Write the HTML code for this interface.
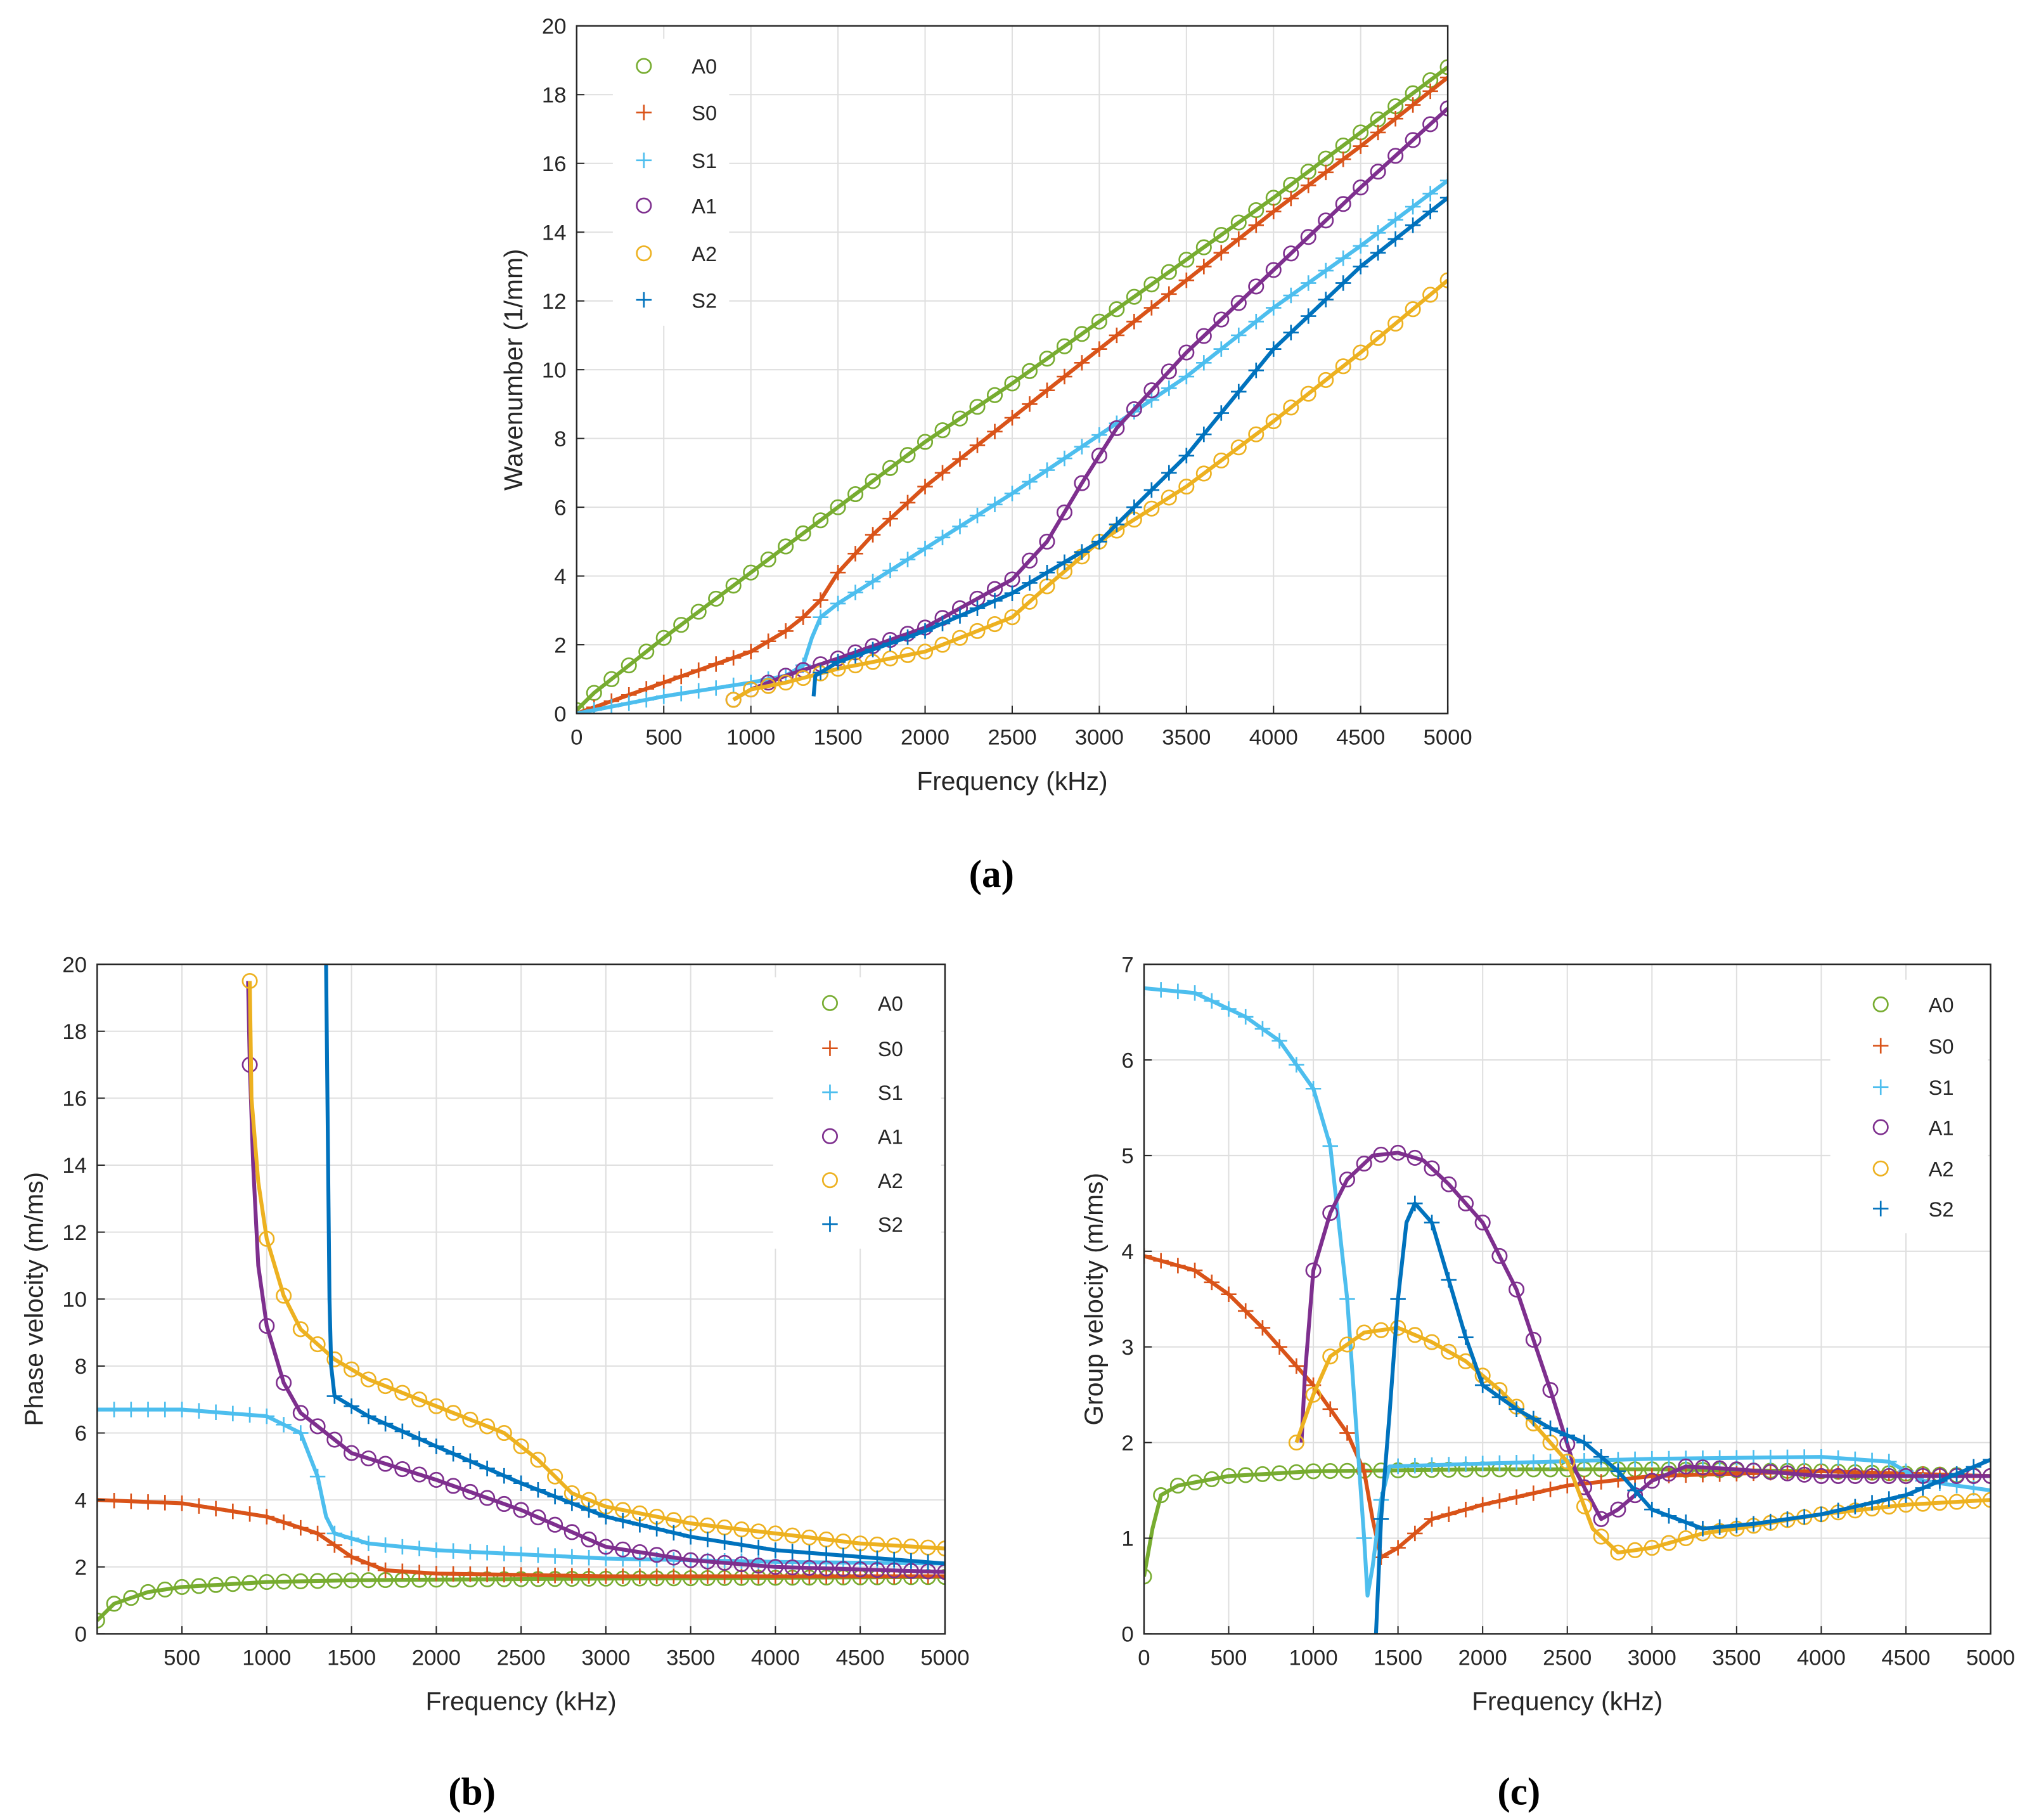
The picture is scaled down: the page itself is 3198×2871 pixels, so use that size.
<!DOCTYPE html>
<html><head><meta charset="utf-8">
<style>
html,body{margin:0;padding:0;background:#fff;}
svg{display:block;font-family:"Liberation Sans",sans-serif;}
</style></head>
<body>
<svg id="fig" width="3198" height="2871" viewBox="0 0 1568 1408" xmlns="http://www.w3.org/2000/svg">
<rect width="1568" height="1408" fill="#fff"/>
<defs>
<clipPath id="clipA"><rect x="446" y="20" width="674" height="532"/></clipPath>
<clipPath id="clipB"><rect x="75" y="746" width="656" height="518"/></clipPath>
<clipPath id="clipC"><rect x="885" y="746" width="655" height="518"/></clipPath>
</defs>
<g id="panels"></g>
<text x="767" y="686" font-family="Liberation Serif,serif" font-size="30" font-weight="bold" text-anchor="middle">(a)</text>
<text x="365" y="1396" font-family="Liberation Serif,serif" font-size="30" font-weight="bold" text-anchor="middle">(b)</text>
<text x="1175" y="1396" font-family="Liberation Serif,serif" font-size="30" font-weight="bold" text-anchor="middle">(c)</text>
</svg>
<script>
// ---- data: panel (a) wavenumber (1/mm) vs frequency (kHz)
const waveA0=[[0,0.1],[100,0.6],[500,2.2],[1000,4.1],[1500,6.0],[2000,7.9],[2500,9.6],[3000,11.4],[3500,13.2],[4000,15.0],[4500,16.9],[5000,18.8]];
const waveS0=[[0,0],[500,0.9],[1000,1.8],[1200,2.4],[1300,2.8],[1400,3.3],[1500,4.1],[1700,5.2],[2000,6.6],[2500,8.6],[3000,10.6],[3500,12.6],[4000,14.6],[4500,16.5],[5000,18.5]];
const waveS1=[[0,0],[500,0.5],[1000,0.9],[1200,1.1],[1300,1.4],[1350,2.2],[1400,2.8],[1500,3.2],[2000,4.8],[2500,6.4],[3000,8.1],[3500,9.8],[4000,11.8],[4500,13.6],[5000,15.5]];
const waveA1=[[900,0.4],[1000,0.7],[1200,1.1],[1500,1.6],[2000,2.5],[2500,3.9],[2700,5.0],[2900,6.7],[3100,8.3],[3300,9.4],[3500,10.5],[4000,12.9],[4500,15.3],[5000,17.6]];
const waveA2=[[900,0.4],[1000,0.7],[1200,0.9],[1500,1.3],[2000,1.8],[2500,2.8],[2700,3.7],[3000,5.0],[3500,6.6],[4000,8.5],[4500,10.5],[5000,12.6]];
const waveS2=[[1360,0.5],[1370,1.1],[1500,1.5],[2000,2.4],[2500,3.5],[3000,5.0],[3500,7.5],[4000,10.6],[4500,13.0],[5000,15.0]];
// ---- data: panel (b) phase velocity (m/ms)
const phaseA0=[[0,0.4],[100,0.9],[300,1.25],[500,1.4],[1000,1.55],[1500,1.6],[2000,1.62],[3000,1.65],[5000,1.7]];
const phaseS0=[[0,4.0],[500,3.9],[1000,3.5],[1300,3.0],[1500,2.3],[1700,1.9],[2000,1.8],[3000,1.72],[5000,1.72]];
const phaseS1=[[0,6.7],[500,6.7],[1000,6.5],[1200,6.0],[1300,4.7],[1350,3.5],[1400,3.0],[1600,2.7],[2000,2.5],[3000,2.25],[4000,2.15],[5000,2.1]];
const phaseA1=[[890,19.5],[900,17],[920,14],[950,11],[1000,9.2],[1100,7.5],[1200,6.6],[1400,5.8],[1500,5.4],[2000,4.6],[2500,3.7],[3000,2.6],[3500,2.2],[4000,2.0],[5000,1.85]];
const phaseA2=[[900,19.5],[910,16],[950,13.5],[1000,11.8],[1100,10.1],[1200,9.1],[1400,8.2],[1600,7.6],[2000,6.8],[2400,6.0],[2600,5.2],[2800,4.2],[3000,3.8],[3500,3.3],[4000,3.0],[4500,2.7],[5000,2.55]];
const phaseS2=[[1350,20],[1360,15],[1370,10],[1380,8.0],[1400,7.1],[1600,6.5],[2000,5.6],[2500,4.5],[3000,3.5],[3500,2.9],[4000,2.5],[4500,2.3],[5000,2.1]];
// ---- data: panel (c) group velocity (m/ms)
const groupA0=[[0,0.6],[50,1.1],[100,1.45],[200,1.55],[500,1.65],[1000,1.7],[2000,1.72],[3000,1.72],[4000,1.7],[5000,1.65]];
const groupS0=[[0,3.95],[300,3.8],[500,3.55],[700,3.2],[1000,2.6],[1200,2.1],[1300,1.7],[1350,1.2],[1400,0.8],[1500,0.9],[1700,1.2],[2000,1.35],[2500,1.55],[3000,1.65],[4000,1.7],[5000,1.65]];
const groupS1=[[0,6.75],[300,6.7],[600,6.45],[800,6.2],[1000,5.7],[1100,5.1],[1200,3.5],[1300,1.0],[1320,0.4],[1350,0.7],[1400,1.4],[1450,1.75],[2000,1.78],[3000,1.83],[4000,1.85],[4400,1.8],[4600,1.6],[5000,1.5]];
const groupA1=[[930,2.0],[950,2.7],[1000,3.8],[1100,4.4],[1200,4.75],[1350,5.0],[1500,5.03],[1650,4.95],[1800,4.7],[2000,4.3],[2200,3.6],[2400,2.55],[2550,1.7],[2700,1.2],[2800,1.3],[3000,1.6],[3200,1.75],[3500,1.72],[4000,1.65],[5000,1.65]];
const groupA2=[[900,2.0],[1000,2.5],[1100,2.9],[1300,3.15],[1500,3.2],[1700,3.05],[1900,2.85],[2100,2.55],[2300,2.2],[2500,1.8],[2650,1.1],[2800,0.85],[3000,0.9],[3300,1.05],[3500,1.1],[4000,1.25],[4500,1.35],[5000,1.4]];
const groupS2=[[1370,0.0],[1400,1.2],[1450,2.3],[1500,3.5],[1550,4.3],[1600,4.5],[1700,4.3],[1800,3.7],[1900,3.1],[2000,2.6],[2200,2.35],[2400,2.15],[2600,2.0],[2800,1.7],[3000,1.3],[3300,1.1],[3600,1.15],[4000,1.25],[4500,1.45],[5000,1.82]];
const modeNames=["A0","S0","S1","A1","A2","S2"];
const modeColors=["#77AC30","#D95319","#4DBEEE","#7E2F8E","#EDB120","#0072BD"];
const modeMarkers=["o","+","+","o","o","+"];
const xTicksA=[0,500,1000,1500,2000,2500,3000,3500,4000,4500,5000];
const xTicksB=[500,1000,1500,2000,2500,3000,3500,4000,4500,5000];
const yTicks20=[0,2,4,6,8,10,12,14,16,18,20];
const yTicks7=[0,1,2,3,4,5,6,7];

const NS="http://www.w3.org/2000/svg";
const root=document.getElementById('panels');
function mk(tag,attrs,parent){const e=document.createElementNS(NS,tag);for(const k in attrs)e.setAttribute(k,attrs[k]);(parent||root).appendChild(e);return e;}
function interp(d,f){if(f<d[0][0]||f>d[d.length-1][0])return null;for(let i=1;i<d.length;i++){if(f<=d[i][0]){const a=d[i-1],b=d[i];const t=(f-a[0])/(b[0]-a[0]||1);return a[1]+t*(b[1]-a[1]);}}return d[d.length-1][1];}

function panel(cfg){
  const g=mk('g',{});
  
  
  const X=f=>cfg.x0+(f-0)/5000*(cfg.x1-cfg.x0);
  const Y=v=>cfg.y0-(v/cfg.ymax)*(cfg.y0-cfg.y1);
  // grid
  cfg.xt.forEach(t=>{mk('line',{x1:X(t),x2:X(t),y1:cfg.y1,y2:cfg.y0,stroke:'#dfdfdf','stroke-width':1},g);});
  cfg.yt.forEach(t=>{mk('line',{x1:cfg.x0,x2:cfg.x1,y1:Y(t),y2:Y(t),stroke:'#dfdfdf','stroke-width':1},g);});
  // series
  const sg=mk('g',{'clip-path':'url(#'+cfg.clip+')'},g);
  cfg.series.forEach((d,i)=>{
    const col=modeColors[i];
    const pl=mk('polyline',{points:d.map(p=>X(p[0])+','+Y(p[1])).join(' '),fill:'none',stroke:col,'stroke-width':3,'stroke-linejoin':'round'},sg);
    
    
    for(let f=Math.ceil(d[0][0]/100)*100;f<=5000;f+=100){
      const v=interp(d,f); if(v===null)continue;
      const cx=X(f),cy=Y(v);
      if(modeMarkers[i]==='o'){const c=mk('circle',{cx:cx,cy:cy,r:5.5,fill:'none',stroke:col,'stroke-width':1.3},sg);
        
        }
      else{const p=mk('path',{d:`M${cx-6},${cy}H${cx+6}M${cx},${cy-6}V${cy+6}`,stroke:col,'stroke-width':1.3},sg);
        
        }
    }
  });
  // box
  mk('rect',{x:cfg.x0,y:cfg.y1,width:cfg.x1-cfg.x0,height:cfg.y0-cfg.y1,fill:'none',stroke:'#262626','stroke-width':1.2},g);
  // ticks
  cfg.xt.forEach(t=>{mk('line',{x1:X(t),x2:X(t),y1:cfg.y0,y2:cfg.y0-6,stroke:'#262626'},g);
    const tx=mk('text',{x:X(t),y:cfg.y0+24,'font-size':17,'text-anchor':'middle',fill:'#262626'},g);tx.textContent=t;
    });
  cfg.yt.forEach(t=>{mk('line',{x1:cfg.x0,x2:cfg.x0+6,y1:Y(t),y2:Y(t),stroke:'#262626'},g);
    const tx=mk('text',{x:cfg.x0-8,y:Y(t)+6,'font-size':17,'text-anchor':'end',fill:'#262626'},g);tx.textContent=t;
    });
  const xl=mk('text',{x:(cfg.x0+cfg.x1)/2,y:cfg.y0+59,'font-size':20,'text-anchor':'middle',fill:'#262626'},g);xl.textContent='Frequency (kHz)';
  
  const yl=mk('text',{x:0,y:0,'font-size':20,'text-anchor':'middle',fill:'#262626',transform:`translate(${cfg.ylx},${(cfg.y0+cfg.y1)/2}) rotate(-90)`},g);yl.textContent=cfg.ylabel;
  
  // legend
  const L=cfg.legend;
  const lg=mk('g',{},g);
  
  mk('rect',{x:L.x,y:L.y,width:L.w,height:L.h,fill:'#fff'},lg);
  modeNames.forEach((n,i)=>{
    const cy=L.ys[i],cx=L.mx,col=modeColors[i];
    const eg=mk('g',{},lg);
    
    
    if(modeMarkers[i]==='o')mk('circle',{cx:cx,cy:cy,r:5.5,fill:'none',stroke:col,'stroke-width':1.3},eg);
    else mk('path',{d:`M${cx-6},${cy}H${cx+6}M${cx},${cy-6}V${cy+6}`,stroke:col,'stroke-width':1.3},eg);
    const t=mk('text',{x:cx+37,y:cy+6,'font-size':16,fill:'#262626'},eg);t.textContent=n;
  });
}
panel({name:'wavenumber-chart',x0:446,x1:1120,y0:552,y1:20,ymax:20,xt:xTicksA,yt:yTicks20,clip:'clipA',ylabel:'Wavenumber (1/mm)',ylx:404,
  series:[waveA0,waveS0,waveS1,waveA1,waveA2,waveS2],
  legend:{x:474,y:30,w:90,h:222,mx:498,ys:[51,87,124,159,196,232]}});
panel({name:'phase-velocity-chart',x0:75,x1:731,y0:1264,y1:746,ymax:20,xt:xTicksB,yt:yTicks20,clip:'clipB',ylabel:'Phase velocity (m/ms)',ylx:33,
  series:[phaseA0,phaseS0,phaseS1,phaseA1,phaseA2,phaseS2],
  legend:{x:598,y:756,w:130,h:210,mx:642,ys:[776,811,845,879,913,947]}});
panel({name:'group-velocity-chart',x0:885,x1:1540,y0:1264,y1:746,ymax:7,xt:xTicksA,yt:yTicks7,clip:'clipC',ylabel:'Group velocity (m/ms)',ylx:853,
  series:[groupA0,groupS0,groupS1,groupA1,groupA2,groupS2],
  legend:{x:1416,y:758,w:122,h:196,mx:1455,ys:[777,809,841,872,904,935]}});
</script>
</body></html>
